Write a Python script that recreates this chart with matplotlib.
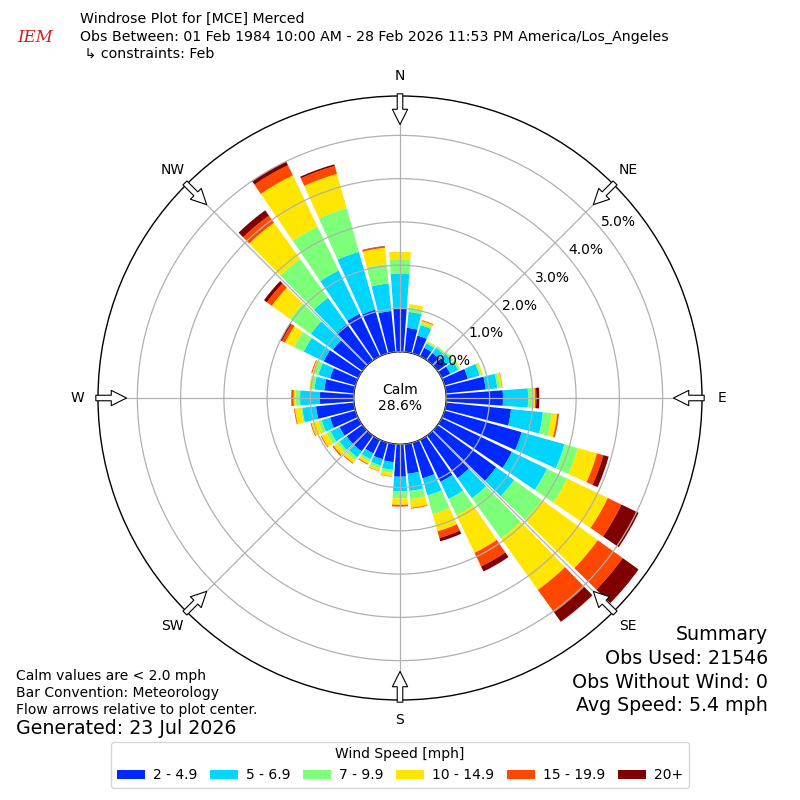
import numpy as np
import matplotlib
matplotlib.use("Agg")
from matplotlib import pyplot as plt


# Richtungen (Grad, meteorologisch) und Windklassen
dir_deg = [0, 10, 20, 30, 40, 50, 60, 70, 80, 90, 100, 110,
           120, 130, 140, 150, 160, 170, 180, 190, 200, 210, 220, 230,
           240, 250, 260, 270, 280, 290, 300, 310, 320, 330, 340, 350]
speed_bins = ["2 - 4.9", "5 - 6.9", "7 - 9.9", "10 - 14.9", "15 - 19.9", "20+"]

# kumulierte Prozente am oberen Rand jeder Klasse
top_2_4_9 = [1.00, 0.56, 0.43, 0.22, 0.21, 0.25, 0.22, 0.56, 0.92, 1.31, 1.51, 1.85,
             1.80, 1.67, 1.21, 1.08, 0.86, 0.69, 0.75, 0.42, 0.40, 0.35, 0.45, 0.45,
             0.48, 0.61, 0.88, 0.78, 0.69, 0.61, 0.89, 0.84, 1.03, 1.09, 1.05, 0.95]
top_5_6_9 = [1.81, 0.93, 0.68, 0.33, 0.36, 0.40, 0.42, 0.84, 1.19, 1.89, 2.25, 2.88,
             2.70, 2.18, 1.78, 1.52, 1.27, 1.09, 1.09, 0.60, 0.55, 0.50, 0.62, 0.65,
             0.71, 0.81, 1.20, 1.24, 0.92, 0.89, 1.40, 1.47, 1.78, 2.20, 2.44, 1.59]
top_7_9_9 = [2.14, 1.03, 0.72, 0.37, 0.40, 0.44, 0.46, 0.88, 1.25, 1.99, 2.45, 3.20,
             3.22, 2.97, 2.93, 1.94, 1.72, 1.28, 1.25, 0.67, 0.62, 0.56, 0.70, 0.72,
             0.81, 0.89, 1.23, 1.35, 1.00, 0.99, 1.65, 2.06, 2.89, 3.33, 3.49, 2.04]
top_10_14_9 = [2.31, 1.11, 0.78, 0.39, 0.41, 0.45, 0.48, 0.92, 1.30, 2.05, 2.58, 3.66,
               4.26, 4.56, 4.39, 2.90, 2.13, 1.48, 1.40, 0.75, 0.68, 0.62, 0.78, 0.82,
               0.94, 1.06, 1.37, 1.39, 1.04, 1.04, 1.88, 2.58, 3.92, 4.64, 4.31, 2.42]
top_15_19_9 = [2.31, 1.11, 0.80, 0.39, 0.41, 0.45, 0.48, 0.92, 1.31, 2.08, 2.61, 3.81,
               4.61, 5.27, 5.03, 3.25, 2.29, 1.50, 1.44, 0.76, 0.69, 0.64, 0.80, 0.85,
               0.96, 1.08, 1.39, 1.43, 1.04, 1.06, 1.96, 2.72, 4.12, 4.90, 4.50, 2.45]
top_20p = [2.31, 1.11, 0.80, 0.39, 0.41, 0.45, 0.48, 0.92, 1.31, 2.15, 2.62, 3.94,
           5.05, 5.72, 5.30, 3.38, 2.37, 1.50, 1.44, 0.76, 0.69, 0.64, 0.80, 0.85,
           0.96, 1.08, 1.39, 1.44, 1.04, 1.06, 2.00, 2.80, 4.27, 5.00, 4.54, 2.46]

r_ticks = [0, 1, 2, 3, 4, 5]
r_labels = ["0.0%", "1.0%", "2.0%", "3.0%", "4.0%", "5.0%"]
compass = ["N", "NE", "E", "SE", "S", "SW", "W", "NW"]
compass_deg = [0, 45, 90, 135, 180, 225, 270, 315]

calm_pct = 28.6
summary = ["Summary", "Obs Used: 21546", "Obs Without Wind: 0", "Avg Speed: 5.4 mph"]
notes = ["Calm values are < 2.0 mph", "Bar Convention: Meteorology",
         "Flow arrows relative to plot center."]


def main():
    fig = plt.figure(figsize=(8, 8), dpi=100)
    ax = fig.add_axes([0.1225, 0.125, 0.755, 0.755], projection="polar")
    ax.set_theta_zero_location("N")
    ax.set_theta_direction(-1)
    ax.set_rorigin(-1.07)
    ax.set_ylim(0, 5.91)

    colors = plt.cm.jet(np.linspace(1 / 6, 1, 6))
    theta = np.radians(dir_deg)
    width = np.radians(10) * 0.86
    bands = [top_2_4_9, top_5_6_9, top_7_9_9, top_10_14_9, top_15_19_9, top_20p]
    bottom = np.zeros(len(dir_deg))
    for label, tops, col in zip(speed_bins, bands, colors):
        tops = np.array(tops)
        ax.bar(theta, tops - bottom, width=width, bottom=bottom, color=col,
               label=label, linewidth=0, zorder=1)
        bottom = tops

    # Gitter oben drueber
    ax.set_axisbelow(False)
    ax.grid(True, color="#b0b0b0", lw=0.9)
    ax.set_thetagrids(compass_deg, labels=compass, fontsize=10)
    ax.tick_params(axis="x", pad=4)
    ax.set_rgrids(r_ticks, labels=r_labels, angle=50, fontsize=10)
    for sp in ax.spines.values():
        sp.set_color("black")
        sp.set_linewidth(1.0)

    # Pfeile am Rand
    for d in compass_deg:
        t = np.radians(d)
        ax.annotate("", xy=(t, 5.25), xytext=(t, 5.96),
                    arrowprops=dict(arrowstyle="simple,head_length=1.1,head_width=1.1,tail_width=0.4",
                                    fc="white", ec="black", lw=0.8,
                                    shrinkA=0, shrinkB=0),
                    annotation_clip=False, zorder=5)

    ax.text(0.5, 0.5, f"Calm\n{calm_pct}%", transform=ax.transAxes,
            ha="center", va="center", fontsize=10)

    # Kopfzeilen
    fig.text(0.044, 1 - 38 / 800, "IEM", color="#cc2020", fontsize=12,
             family="DejaVu Serif", style="italic", ha="center", va="center")
    fig.text(0.1, 1 - 19 / 800, "Windrose Plot for [MCE] Merced", fontsize=10.15, va="center")
    fig.text(0.1, 1 - 37 / 800,
             "Obs Between: 01 Feb 1984 10:00 AM - 28 Feb 2026 11:53 PM America/Los_Angeles",
             fontsize=10.15, va="center")
    fig.text(0.1, 1 - 54 / 800, " \u21b3 constraints: Feb", fontsize=10.15, va="center")

    for i, s in enumerate(summary):
        fig.text(0.96, 1 - (635 + 23.5 * i) / 800, s, fontsize=13.7,
                 ha="right", va="center")
    for i, s in enumerate(notes):
        fig.text(0.02, 1 - (676 + 17 * i) / 800, s, fontsize=10, va="center")
    fig.text(0.02, 1 - 729 / 800, "Generated: 23 Jul 2026", fontsize=13.7, va="center")

    fig.legend(loc="center", bbox_to_anchor=(0.5, 0.044), ncol=6,
               title="Wind Speed [mph]", fontsize=10, title_fontsize=10,
               handlelength=2.0, handleheight=0.7, handletextpad=0.6,
               columnspacing=0.9, fancybox=True)

    fig.savefig("out.png", dpi=100)


if __name__ == '__main__':
    main()
